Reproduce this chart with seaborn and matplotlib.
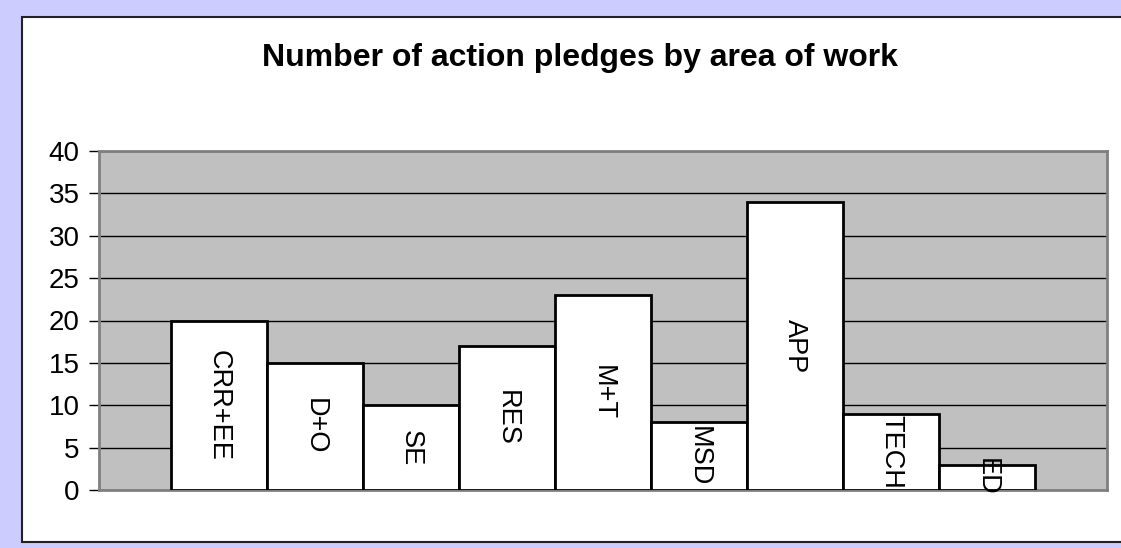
import matplotlib
matplotlib.use("Agg")
import matplotlib.pyplot as plt
import seaborn as sns
import pandas as pd
from matplotlib.patches import Rectangle

categories = ["CRR+EE", "D+O", "SE", "RES", "M+T", "MSD", "APP", "TECH", "ED"]
pledges = [20, 15, 10, 17, 23, 8, 34, 9, 3]
y_ticks = [0, 5, 10, 15, 20, 25, 30, 35, 40]
title = "Number of action pledges by area of work"

sns.set_theme(style="white")
plt.rcParams['font.family'] = ['Liberation Sans', 'DejaVu Sans']

W, H = 1121, 548
fig = plt.figure(figsize=(W / 100, H / 100), dpi=100)
fig.patch.set_facecolor('#CCCCFF')
fig.patches.append(Rectangle((21.5 / W, 6 / H), 1.2, (542 - 17) / H,
                             transform=fig.transFigure, facecolor='white',
                             edgecolor='#222222', linewidth=1.5, zorder=-5))

ax = fig.add_axes([99 / W, 58 / H, 1008 / W, 339 / H])
ax.set_zorder(2)
ax.set_facecolor('#C0C0C0')

df = pd.DataFrame({"area": categories, "pledges": pledges})
sns.barplot(data=df, x="area", y="pledges", color="white", saturation=1,
            edgecolor="black", linewidth=2, width=1.0, ax=ax, zorder=3)
ax.bar_label(ax.containers[0], labels=categories, label_type='center',
             rotation=270, fontsize=19.5, color='black', clip_on=False)

ax.set_xlim(-1.25, 9.25)
ax.set_ylim(0, 40)
ax.set_yticks(y_ticks)
ax.set_xticks([])
ax.set_xlabel("")
ax.set_ylabel("")
ax.yaxis.grid(True, color='black', linewidth=1)
ax.set_axisbelow(True)
ax.tick_params(axis='y', left=True, length=7, width=1, color='black',
               direction='out', pad=7, labelsize=20, labelcolor='black')
for s in ['top', 'right', 'bottom', 'left']:
    ax.spines[s].set_color('#808080')
    ax.spines[s].set_linewidth(2)

fig.text(580 / W, 1 - 58 / H, title, ha='center', va='center',
         fontsize=23, fontweight='bold', color='black', zorder=3)

fig.savefig("out.png", dpi=100, facecolor=fig.get_facecolor())
